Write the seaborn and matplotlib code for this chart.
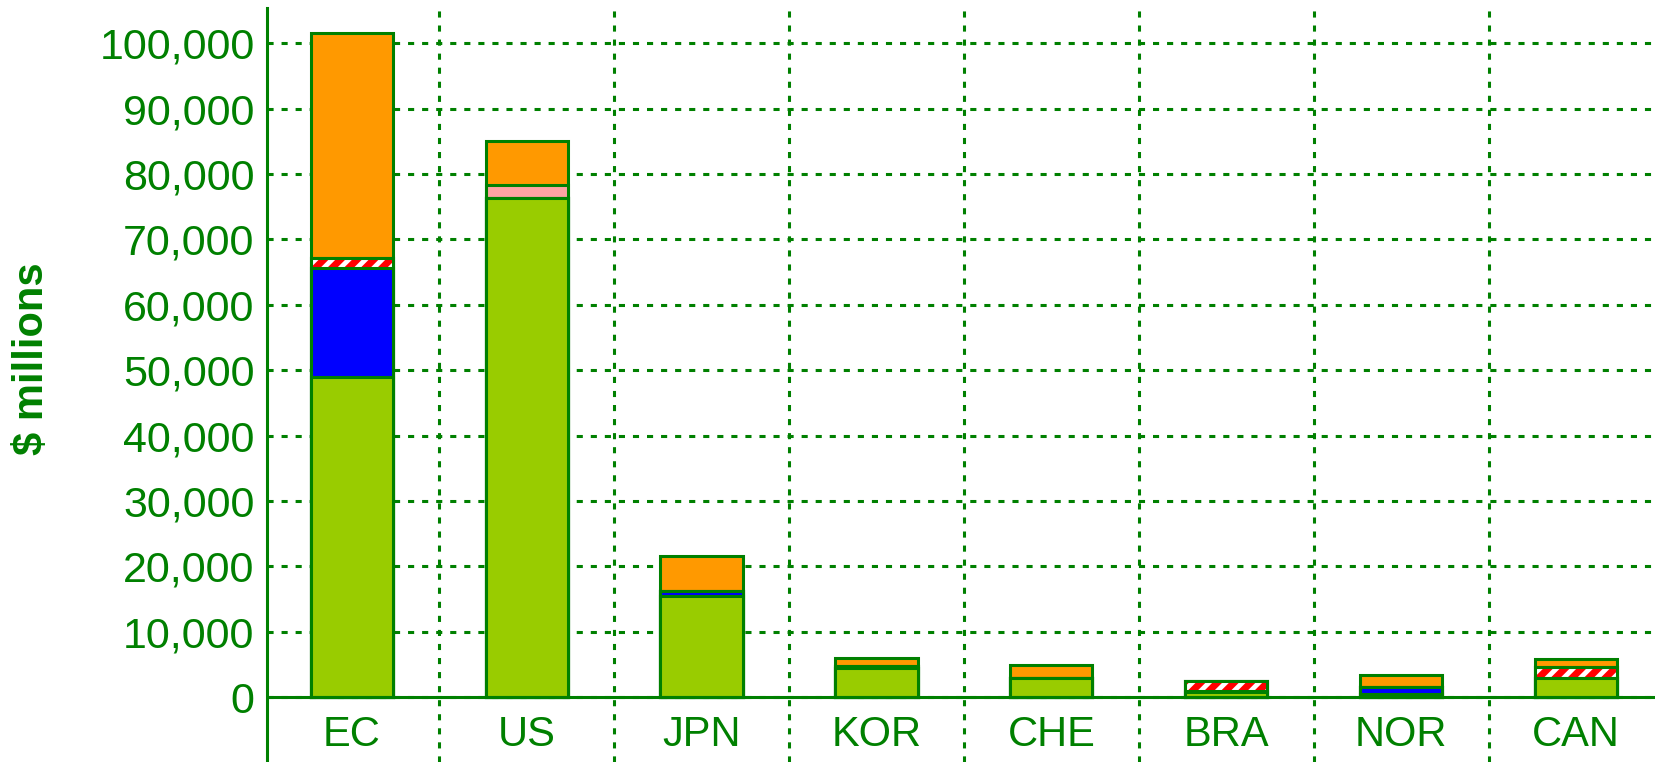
import numpy as np
import pandas as pd
import seaborn as sns
import matplotlib.pyplot as plt

# data ($ millions)
countries = ["EC", "US", "JPN", "KOR", "CHE", "BRA", "NOR", "CAN"]
green_vals = [49000, 76400, 15500, 4400, 2900, 700, 400, 2900]
blue_vals = [16600, 0, 700, 0, 0, 200, 1200, 0]
hatch_vals = [1600, 0, 0, 300, 0, 1500, 0, 1700]
pink_vals = [0, 1900, 0, 0, 0, 0, 0, 0]
orange_vals = [34400, 6800, 5300, 1300, 2000, 100, 1700, 1200]
ytick_vals = list(range(0, 100001, 10000))
ytick_labels = ["{:,}".format(v) for v in ytick_vals]

DKGREEN = "#008000"

sns.set_style("white")
plt.rcParams["font.family"] = ["Liberation Sans", "DejaVu Sans"]
plt.rcParams["hatch.linewidth"] = 5
plt.rcParams["hatch.color"] = "red"

df = pd.DataFrame({"country": countries})
df["c1"] = np.array(green_vals)
df["c2"] = df["c1"] + np.array(blue_vals)
df["c3"] = df["c2"] + np.array(hatch_vals)
df["c4"] = df["c3"] + np.array(pink_vals)
df["c5"] = df["c4"] + np.array(orange_vals)

fig = plt.figure(figsize=(16.56, 7.62), dpi=100)
ax = fig.add_axes([0.1613, 0.0, 0.8387, 0.989])

common = dict(data=df, x="country", width=0.47, saturation=1, errorbar=None, ax=ax)
# stacked by overlapping cumulative bars, top layer first
sns.barplot(y="c5", color="#FF9900", edgecolor=DKGREEN, linewidth=2.2, **common)
sns.barplot(y="c4", color="#FFA3A3", edgecolor=DKGREEN, linewidth=2.2, **common)
sns.barplot(y="c3", color="white", edgecolor="red", linewidth=0, hatch="//", **common)
sns.barplot(y="c3", fill=False, edgecolor=DKGREEN, linewidth=2.2, **common)
sns.barplot(y="c2", color="#0000FF", edgecolor=DKGREEN, linewidth=2.2, **common)
sns.barplot(y="c1", color="#99CC00", edgecolor=DKGREEN, linewidth=2.2, **common)

ax.set_xlim(-0.484, 7.457)
ax.set_ylim(-9943, 105340)
ax.set_yticks(ytick_vals)
ax.set_yticklabels(ytick_labels)
ax.set_xticks(range(len(countries)))
ax.set_xticklabels(countries)
ax.set_xticks(np.arange(0.5, len(countries) - 1, 1.0), minor=True)
ax.set_xlabel("")
ax.set_ylabel("")

ax.set_axisbelow(True)
dots = (0, (2, 2.6))
ax.yaxis.grid(True, color=DKGREEN, linestyle=dots, linewidth=2.2)
ax.xaxis.grid(True, which="minor", color=DKGREEN, linestyle=dots, linewidth=2.2)
ax.xaxis.grid(False, which="major")
ax.axhline(0, color=DKGREEN, linewidth=2.2, zorder=5)

for s in ["top", "right", "bottom"]:
    ax.spines[s].set_visible(False)
ax.spines["left"].set_color(DKGREEN)
ax.spines["left"].set_linewidth(2.2)

ax.tick_params(axis="y", direction="inout", length=14, width=2.2, color=DKGREEN,
               labelcolor=DKGREEN, labelsize=31, pad=2)
ax.tick_params(axis="x", which="both", length=0, labelcolor=DKGREEN,
               labelsize=30, pad=-34)

fig.text(32 / 1656, 0.529, "$ millions", rotation=90, ha="center", va="center",
         color=DKGREEN, fontsize=30, fontweight="bold")

fig.savefig("out.png", dpi=100)
